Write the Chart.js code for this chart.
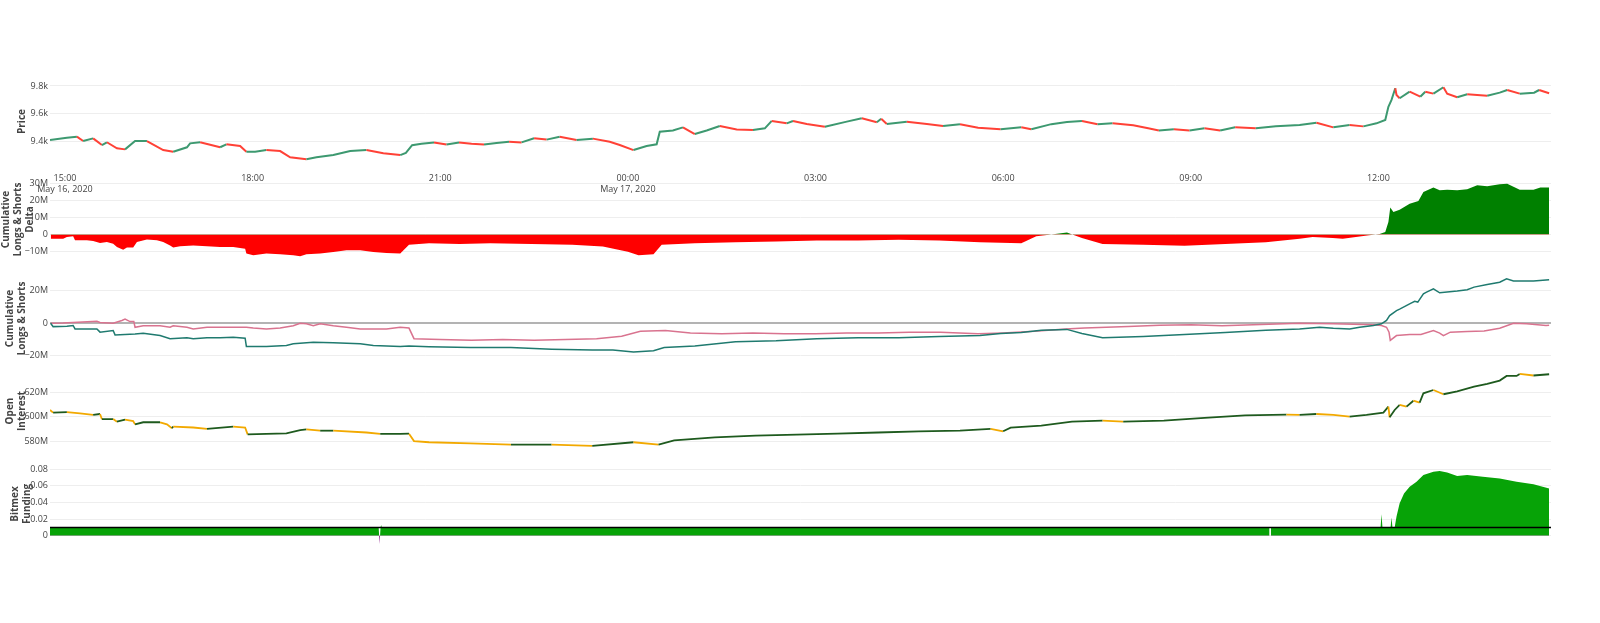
<!DOCTYPE html>
<html lang="en">
<head>
<meta charset="UTF-8">
<title>BTC Price, Longs & Shorts, Open Interest, Funding</title>
<script src="https://cdn.jsdelivr.net/npm/chart.js"></script>
<style>
    body { margin: 0; background: #fff; }
    .panel { position: absolute; left: 0; }
</style>
</head>
<body>
<!-- each canvas has 10px spare above/below its plot area so tick labels are not clipped -->
<canvas id="priceChart" class="panel" width="1600" height="125" style="top:69px"></canvas>
<canvas id="deltaChart" class="panel" width="1600" height="97" style="top:171px"></canvas>
<canvas id="lsChart" class="panel" width="1600" height="105" style="top:266px"></canvas>
<canvas id="oiChart" class="panel" width="1600" height="102" style="top:360px"></canvas>
<canvas id="fundChart" class="panel" width="1600" height="104" style="top:452px"></canvas>

<script>
// x values are hours since May 16, 2020 00:00
const xTickVals = [15, 18, 21, 24, 27, 30, 33, 36];
const xTickLabels = [["15:00", "May 16, 2020"], "18:00", "21:00", ["00:00", "May 17, 2020"], "03:00", "06:00", "09:00", "12:00"];

// price (USD)
const priceT = [14.76, 15.03, 15.19, 15.29, 15.45, 15.59, 15.67, 15.83, 15.96, 16.12, 16.31, 16.57, 16.73, 16.95, 17.00, 17.16, 17.48, 17.58, 17.80, 17.90,
    18.04, 18.22, 18.44, 18.60, 18.86, 19.02, 19.29, 19.56, 19.82, 20.09, 20.36, 20.45, 20.55, 20.70, 20.90, 21.10, 21.30, 21.50, 21.70, 21.90,
    22.10, 22.30, 22.50, 22.70, 22.91, 23.18, 23.44, 23.71, 23.87, 24.09, 24.30, 24.46, 24.51, 24.72, 24.88, 25.07, 25.26, 25.47, 25.74, 26.00,
    26.19, 26.30, 26.54, 26.64, 26.86, 27.15, 27.50, 27.74, 27.98, 28.05, 28.14, 28.46, 28.78, 29.04, 29.31, 29.60, 29.96, 30.29, 30.45, 30.77,
    31.02, 31.26, 31.51, 31.75, 32.08, 32.32, 32.49, 32.73, 32.98, 33.22, 33.47, 33.71, 34.04, 34.36, 34.74, 35.01, 35.28, 35.54, 35.76, 35.97,
    36.11, 36.16, 36.21, 36.27, 36.29, 36.34, 36.50, 36.67, 36.75, 36.88, 37.04, 37.10, 37.26, 37.42, 37.74, 37.94, 38.06, 38.26, 38.49, 38.57,
    38.73];
const priceV = [9412, 9429, 9436, 9405, 9424, 9376, 9396, 9353, 9345, 9405, 9405, 9340, 9328, 9360, 9388, 9396, 9360, 9381, 9369, 9328,
    9328, 9340, 9333, 9288, 9274, 9288, 9304, 9333, 9340, 9317, 9304, 9320, 9375, 9385, 9395, 9380, 9395, 9385, 9380, 9390,
    9400, 9395, 9425, 9415, 9436, 9412, 9422, 9400, 9376, 9340, 9369, 9381, 9472, 9480, 9503, 9455, 9480, 9513, 9488, 9484,
    9496, 9549, 9532, 9549, 9527, 9508, 9544, 9568, 9540, 9565, 9527, 9544, 9527, 9513, 9525, 9500, 9489, 9504, 9489, 9526,
    9541, 9548, 9526, 9533, 9518, 9496, 9481, 9489, 9481, 9496, 9481, 9504, 9496, 9511, 9520, 9536, 9503, 9520, 9510, 9532,
    9556, 9651, 9700, 9784, 9735, 9712, 9759, 9723, 9759, 9745, 9791, 9745, 9719, 9740, 9730, 9752, 9771, 9745, 9752, 9771,
    9748];
const priceTicks = [9400, 9600, 9800];
const priceTickLabels = ["9.4k", "9.6k", "9.8k"];

// cumulative longs & shorts delta (millions)
const deltaT = [14.77, 14.97, 15.03, 15.13, 15.16, 15.35, 15.45, 15.56, 15.67, 15.77, 15.83, 15.93, 15.99, 16.09, 16.15, 16.31, 16.47, 16.57, 16.68, 16.73,
    16.84, 17.05, 17.27, 17.48, 17.69, 17.88, 17.90, 18.01, 18.22, 18.44, 18.65, 18.76, 18.86, 19.08, 19.29, 19.50, 19.72, 19.93, 20.14, 20.36,
    20.50, 20.82, 21.31, 21.80, 22.46, 23.11, 23.60, 24.00, 24.17, 24.41, 24.54, 25.07, 25.72, 26.37, 27.02, 27.68, 28.33, 28.98, 29.63, 30.29,
    30.53, 30.77, 31.02, 31.26, 31.59, 32.24, 32.90, 33.55, 34.20, 34.74, 34.95, 35.27, 35.43, 35.82, 36.02, 36.11, 36.16, 36.19, 36.24, 36.34,
    36.50, 36.64, 36.72, 36.88, 36.98, 37.10, 37.26, 37.42, 37.58, 37.74, 37.94, 38.06, 38.26, 38.48, 38.59, 38.73];
const deltaV = [-2.4, -2.4, -1.4, -1.0, -3.3, -3.3, -3.7, -4.9, -4.3, -5.3, -7.2, -8.8, -7.6, -7.6, -4.3, -2.9, -3.3, -4.3, -6.3, -7.6,
    -6.8, -6.3, -6.8, -7.2, -7.2, -8.2, -11.1, -12.1, -11.1, -11.5, -12.1, -12.7, -11.5, -11.1, -10.2, -9.2, -9.2, -10.2, -10.7, -11.1,
    -6.0, -5.0, -5.5, -5.0, -5.5, -6.0, -7.0, -10.0, -12.0, -11.5, -6.0, -5.0, -4.5, -4.0, -3.5, -3.5, -3.0, -3.5, -4.5, -5.0,
    -1.0, 0.0, 1.2, -2.0, -5.5, -6.0, -6.5, -5.5, -4.5, -2.4, -1.4, -2.0, -2.4, -0.5, 0.3, 1.5, 7.4, 15.8, 13.2, 14.6,
    18.1, 19.6, 24.9, 27.5, 25.9, 26.2, 25.9, 26.5, 28.8, 28.3, 29.4, 29.8, 26.2, 26.2, 27.5, 27.5];
const deltaTicks = [-10, 0, 10, 20, 30];
const deltaTickLabels = ["\u221210M", "0", "10M", "20M", "30M"];

// cumulative longs (teal) and shorts (pink), millions
const longsT = [14.77, 14.81, 15.03, 15.13, 15.16, 15.51, 15.56, 15.77, 15.80, 16.12, 16.25, 16.52, 16.68, 16.95, 17.05, 17.27, 17.48, 17.69, 17.88, 17.90,
    18.22, 18.54, 18.65, 18.97, 19.29, 19.72, 19.93, 20.36, 20.50, 20.82, 21.48, 22.13, 22.78, 23.43, 23.76, 24.09, 24.41, 24.58, 25.07, 25.72,
    26.37, 27.02, 27.68, 28.33, 28.98, 29.63, 29.96, 30.29, 30.61, 31.02, 31.26, 31.59, 32.24, 32.90, 33.55, 34.20, 34.74, 35.06, 35.28, 35.54,
    35.70, 35.92, 36.05, 36.13, 36.18, 36.29, 36.34, 36.50, 36.58, 36.63, 36.72, 36.77, 36.88, 36.98, 37.26, 37.42, 37.53, 37.74, 37.94, 38.05,
    38.16, 38.48, 38.73];
const longsV = [0, -2.1, -1.8, -1.4, -3.5, -3.5, -5.5, -4.5, -7.2, -6.6, -6.2, -7.6, -9.6, -9.0, -9.6, -9.0, -9.0, -8.6, -9.2, -14.3,
    -14.3, -13.7, -12.7, -11.7, -12.1, -12.7, -13.7, -14.3, -14.0, -14.5, -15.0, -15.0, -16.0, -16.5, -16.5, -17.7, -17.0, -15.0, -14.0, -11.4,
    -10.8, -9.5, -8.9, -8.9, -8.2, -7.6, -6.3, -5.7, -4.4, -3.8, -6.3, -8.9, -8.2, -7.0, -5.7, -4.4, -3.5, -2.5, -3.1, -3.5,
    -2.5, -1.4, -0.4, 1.7, 4.7, 7.8, 8.7, 11.9, 13.5, 13.0, 18.1, 19.1, 21.2, 18.7, 19.8, 20.6, 22.2, 23.8, 25.2, 27.3,
    26.0, 26.0, 26.7];
const shortsT = [14.77, 14.97, 15.51, 15.56, 15.77, 15.91, 15.96, 16.04, 16.10, 16.12, 16.25, 16.52, 16.68, 16.73, 16.95, 17.05, 17.27, 17.48, 17.69, 17.90,
    18.01, 18.22, 18.44, 18.65, 18.76, 18.86, 18.97, 19.08, 19.29, 19.50, 19.72, 19.93, 20.14, 20.36, 20.50, 20.58, 21.00, 21.50, 22.00, 22.50,
    23.00, 23.50, 23.90, 24.20, 24.60, 25.00, 25.50, 26.00, 26.50, 27.00, 27.50, 28.00, 28.50, 29.00, 29.60, 30.00, 30.50, 31.00, 31.30, 32.00,
    32.50, 33.00, 33.50, 34.00, 34.74, 35.28, 35.92, 36.05, 36.13, 36.17, 36.19, 36.29, 36.50, 36.68, 36.88, 36.98, 37.04, 37.15, 37.42, 37.69,
    37.94, 38.16, 38.37, 38.68, 38.73];
const shortsV = [0, 0.2, 1.2, 0.5, 0, 1.7, 2.5, 1.0, 1.0, -2.5, -1.6, -1.6, -2.5, -1.6, -2.5, -3.5, -2.5, -2.5, -2.5, -2.5,
    -3.0, -3.5, -3.0, -1.6, 0, -0.4, -1.6, -0.4, -1.6, -2.5, -3.5, -3.5, -3.5, -2.5, -3.0, -9.5, -10.0, -10.5, -10.0, -10.5,
    -10.0, -9.5, -8.0, -5.0, -4.5, -6.0, -6.5, -6.0, -6.5, -6.5, -6.0, -6.0, -5.5, -5.5, -6.5, -6.0, -5.0, -3.5, -3.0, -2.0,
    -1.2, -1.0, -1.5, -1.0, 0, -0.4, -1.0, -1.4, -2.5, -5.5, -10.6, -7.6, -7.0, -7.0, -4.5, -6.1, -7.6, -5.5, -5.1, -4.8,
    -3.1, 0, -0.4, -1.4, -1.2];
const lsTicks = [-20, 0, 20];
const lsTickLabels = ["\u221220M", "0", "20M"];

// open interest (millions)
const oiT = [14.76, 14.81, 15.03, 15.24, 15.45, 15.56, 15.59, 15.77, 15.83, 15.96, 16.09, 16.12, 16.25, 16.52, 16.63, 16.71, 16.73, 17.05, 17.27, 17.69,
    17.88, 17.92, 18.22, 18.54, 18.76, 18.86, 19.08, 19.29, 19.82, 20.04, 20.36, 20.50, 20.58, 20.82, 21.48, 22.13, 22.78, 23.43, 24.09, 24.49,
    24.74, 25.39, 26.04, 26.70, 27.35, 28.00, 28.65, 29.31, 29.80, 30.00, 30.12, 30.61, 31.10, 31.59, 31.92, 32.57, 33.22, 33.87, 34.53, 34.74,
    35.01, 35.28, 35.54, 35.81, 36.08, 36.16, 36.18, 36.26, 36.34, 36.45, 36.56, 36.66, 36.72, 36.88, 37.04, 37.26, 37.53, 37.74, 37.94, 38.05,
    38.21, 38.26, 38.48, 38.73];
const oiV = [605.5, 603.3, 603.8, 602.7, 601.4, 602.2, 597.9, 598.0, 595.9, 597.5, 596.4, 593.7, 595.4, 595.4, 593.7, 590.5, 591.9, 591.1, 590.0, 591.9,
    591.1, 585.5, 585.8, 586.3, 589.0, 589.6, 588.5, 588.5, 587.0, 585.8, 585.8, 586.0, 580.0, 579.0, 578.0, 577.0, 577.0, 576.0, 579.0, 577.0,
    580.5, 583.0, 584.5, 585.3, 586.0, 587.0, 588.0, 588.6, 590.0, 588.0, 591.0, 592.7, 596.0, 596.7, 596.0, 596.7, 599.0, 601.0, 601.6, 601.4,
    602.2, 601.4, 600.0, 601.4, 603.3, 608.2, 599.5, 605.5, 609.6, 608.2, 613.1, 611.5, 619.2, 621.9, 618.4, 620.8, 624.6, 626.9, 629.6, 633.4,
    633.4, 635.1, 633.8, 634.8];
const oiTicks = [580, 600, 620];
const oiTickLabels = ["580M", "600M", "620M"];

// bitmex funding (predicted, filled) and current rate (black line)
const fundT = [14.76, 20.015, 20.03, 20.045, 20.055, 20.065, 34.26, 34.27, 34.28, 36.035, 36.05, 36.065, 36.195, 36.21, 36.225, 36.26, 36.29, 36.34, 36.41, 36.50,
    36.61, 36.72, 36.88, 36.98, 37.10, 37.26, 37.42, 37.67, 37.94, 38.21, 38.48, 38.73];
const fundV = [0.01, 0.01, -0.01, 0.01, 0.013, 0.01, 0.01, null, 0.01, 0.01, 0.026, 0.01, 0.01, 0.022, 0.01, 0.01, 0.023, 0.039, 0.051, 0.059,
    0.065, 0.073, 0.077, 0.078, 0.076, 0.072, 0.073, 0.071, 0.069, 0.065, 0.062, 0.057];
const rateT = [14.76, 38.76];
const rateV = [0.01, 0.01];
const fundTicks = [0, 0.02, 0.04, 0.06, 0.08];
const fundTickLabels = ["0", "0.02", "0.04", "0.06", "0.08"];

Chart.defaults.font.family = '"Open Sans", verdana, arial, sans-serif';
Chart.defaults.color = "#444";

const X_MIN = 14.76, X_MAX = 38.76;

function pts(t, v) {
    return t.map((x, i) => ({ x: x, y: v[i] }));
}

function yAxis(min, max, ticks, labels, title, titlePad, extra) {
    return Object.assign({
        min: min,
        max: max,
        border: { display: false },
        grid: { color: "#eeeeee", drawTicks: false },
        afterBuildTicks: s => { s.ticks = ticks.map(v => ({ value: v })); },
        afterFit: s => { s.width = 50; s.paddingTop = 0; s.paddingBottom = 0; },
        ticks: { padding: 2, font: { size: 9 }, callback: (v, i) => labels[i] },
        title: { display: true, text: title, font: { size: 10, weight: "bold" }, padding: { top: titlePad, bottom: 0 } }
    }, extra || {});
}

function hiddenX() {
    return { type: "linear", min: X_MIN, max: X_MAX, display: false };
}

function baseOptions(x, y, padBottom) {
    return {
        responsive: false,
        animation: false,
        events: [],
        layout: { padding: { left: 0, right: 49, top: 10, bottom: padBottom } },
        plugins: { legend: { display: false }, tooltip: { enabled: false } },
        elements: { point: { radius: 0 }, line: { tension: 0 } },
        scales: { x: x, y: y }
    };
}

const upDown = (up, down) => c => c.p1.parsed.y >= c.p0.parsed.y ? up : down;

// price panel
new Chart(document.getElementById("priceChart"), {
    type: "line",
    data: {
        datasets: [{
            data: pts(priceT, priceV),
            borderWidth: 2,
            borderColor: "#3D9970",
            segment: { borderColor: upDown("#3D9970", "#FF4136") }
        }]
    },
    options: baseOptions({
        type: "linear", min: X_MIN, max: X_MAX,
        border: { display: false },
        grid: { display: false },
        afterBuildTicks: s => { s.ticks = xTickVals.map(v => ({ value: v })); },
        afterFit: s => { s.height = 30; s.paddingLeft = 0; s.paddingRight = 0; },
        ticks: { padding: 1, maxRotation: 0, autoSkip: false, font: { size: 9 }, callback: (v, i) => xTickLabels[i] }
    }, yAxis(9240, 9850, priceTicks, priceTickLabels, "Price", 16), 0)
});

// cumulative delta panel
new Chart(document.getElementById("deltaChart"), {
    type: "line",
    data: {
        datasets: [{
            data: pts(deltaT, deltaV),
            borderWidth: 1,
            borderColor: "rgba(0,0,0,0)",
            fill: { target: "origin", above: "#008000", below: "#ff0000" }
        }]
    },
    options: baseOptions(hiddenX(), yAxis(-13.68, 31.35, deltaTicks, deltaTickLabels,
        ["Cumulative", "Longs & Shorts", "Delta"], 0), 10)
});

// cumulative longs & shorts panel
new Chart(document.getElementById("lsChart"), {
    type: "line",
    data: {
        datasets: [
            { data: pts(longsT, longsV), borderWidth: 1.5, borderColor: "#1f7a6f" },
            { data: pts(shortsT, shortsV), borderWidth: 1.5, borderColor: "#d9738f" }
        ]
    },
    options: baseOptions(hiddenX(), yAxis(-23.26, 29.05, lsTicks, lsTickLabels,
        ["Cumulative", "Longs & Shorts"], 4.3, {
            grid: {
                drawTicks: false,
                color: c => c.tick && c.tick.value === 0 ? "#b3b3b3" : "#eeeeee",
                lineWidth: c => c.tick && c.tick.value === 0 ? 2 : 1
            }
        }), 10)
});

// open interest panel
new Chart(document.getElementById("oiChart"), {
    type: "line",
    data: {
        datasets: [{
            data: pts(oiT, oiV),
            borderWidth: 1.8,
            borderColor: "#1e5a1e",
            segment: { borderColor: upDown("#1e5a1e", "#f2a900") }
        }]
    },
    options: baseOptions(hiddenX(), yAxis(571.0, 638.3, oiTicks, oiTickLabels, ["Open", "Interest"], 4.6), 10)
});

// funding panel
new Chart(document.getElementById("fundChart"), {
    type: "line",
    data: {
        datasets: [
            { data: pts(rateT, rateV), borderWidth: 1.5, borderColor: "#000000" },
            {
                data: pts(fundT, fundV),
                borderWidth: 1,
                borderColor: "rgba(0,0,0,0)",
                spanGaps: false,
                fill: { target: "origin", above: "#07a307", below: "#8b1a89" }
            }
        ]
    },
    options: baseOptions(hiddenX(), yAxis(-0.0124, 0.0888, fundTicks, fundTickLabels, ["Bitmex", "Funding"], 9.3), 10)
});
</script>
</body>
</html>
